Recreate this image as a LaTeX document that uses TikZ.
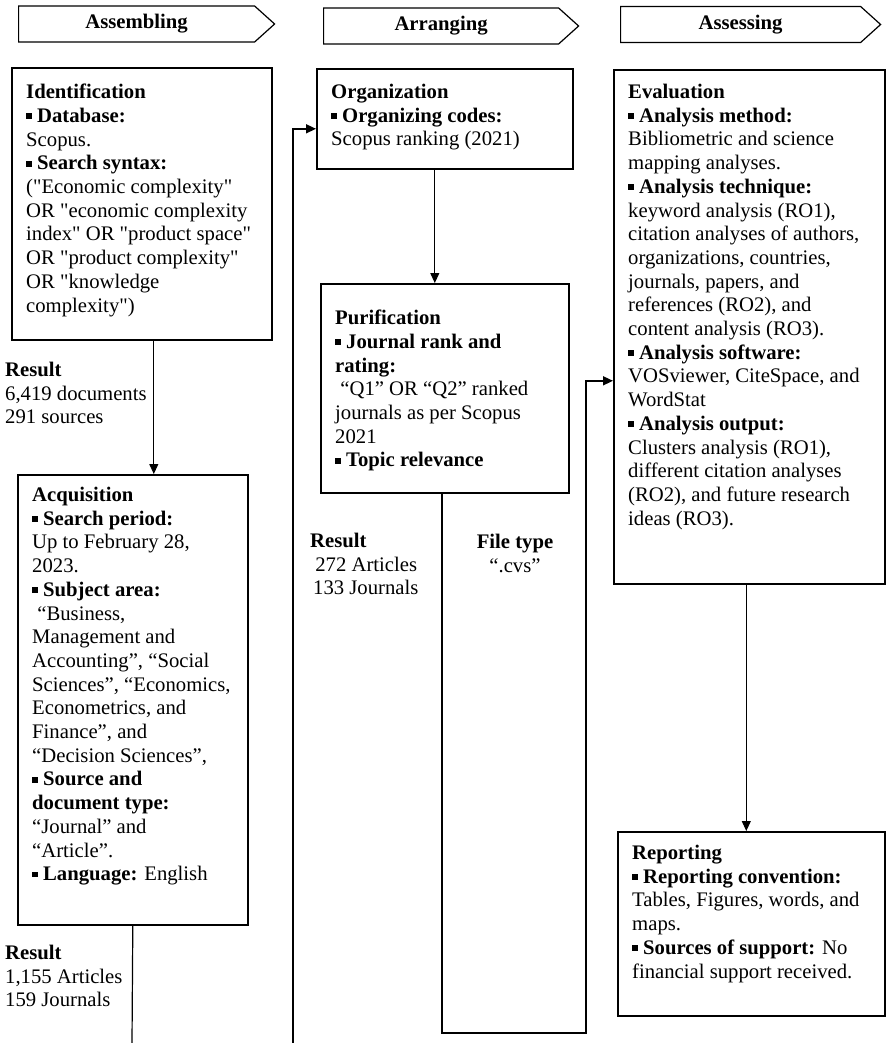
\documentclass[tikz,border=0pt]{standalone}
\usepackage{fontspec}
\setmainfont{Liberation Serif}[Ligatures=TeXOff]
\usetikzlibrary{arrows.meta,shapes.symbols}

\newcommand\sqb{\raisebox{0.16em}{\rule{0.28em}{0.28em}}}

\tikzset{
  hdr/.style={draw, line width=1.2pt, shape=signal, signal to=east, signal pointer angle=84, minimum height=36pt, anchor=west, inner sep=0pt, font=\fontsize{20.7}{23.7}\selectfont\bfseries},
  stage/.style={draw, line width=1.6pt, anchor=north west, inner sep=0pt},
  txt/.style={anchor=north west, inner sep=0pt, align=left, font=\fontsize{20.7}{23.7}\selectfont},
  link/.style={line width=1pt, -{Triangle[length=10pt,width=9pt]}},
  flow/.style={line width=1.5pt, -{Triangle[length=10pt,width=9pt]}},
  plain/.style={line width=1.2pt}
}

\begin{document}
\begin{tikzpicture}[x=1pt, y=-1pt]
\useasboundingbox (0,0) rectangle (886,1043);
\foreach \name/\x/\y/\w/\lbl in {hassem/18/24/256/Assembling, harr/323/26/255/Arranging, hass/620/24.5/260/Assessing}
  \node[hdr, minimum width=\w pt] (\name) at (\x,\y) {\lbl};

\node[stage, minimum width=260pt, minimum height=272pt] (ident) at (11,67) {};
\node[txt] (identtxt) at ([xshift=15pt,yshift=-17pt]ident.north west) {\textbf{Identification}\\
\sqb\ \textbf{Database:}\\
Scopus.\\
\sqb\ \textbf{Search syntax:}\\
("Economic complexity"\\
OR "economic complexity\\
index" OR "product space"\\
OR "product complexity"\\
OR "knowledge\\
complexity")};

\node[stage, minimum width=230pt, minimum height=450pt] (acq) at (17,474) {};
\node[txt] (acqtxt) at ([xshift=15pt,yshift=-13pt]acq.north west) {\textbf{Acquisition}\\
\sqb\ \textbf{Search period:}\\
Up to February 28,\\
2023.\\
\sqb\ \textbf{Subject area:}\\
\ “Business,\\
Management and\\
Accounting”, “Social\\
Sciences”, “Economics,\\
Econometrics, and\\
Finance”, and\\
“Decision Sciences”,\\
\sqb\ \textbf{Source and}\\
\textbf{document type:}\\
“Journal” and\\
“Article”.\\
\sqb\ \textbf{Language:} English};

\node[stage, minimum width=256pt, minimum height=100pt] (org) at (316,68) {};
\node[txt] (orgtxt) at ([xshift=15pt,yshift=-16pt]org.north west) {\textbf{Organization}\\
\sqb\ \textbf{Organizing codes:}\\
Scopus ranking (2021)};

\node[stage, minimum width=248pt, minimum height=209pt] (pur) at (320,283) {};
\node[txt] (purtxt) at ([xshift=15pt,yshift=-27pt]pur.north west) {\textbf{Purification}\\
\sqb\ \textbf{Journal rank and}\\
\textbf{rating:}\\
\ “Q1” OR “Q2” ranked\\
journals as per Scopus\\
2021\\
\sqb\ \textbf{Topic relevance}};

\node[stage, minimum width=271pt, minimum height=514pt] (eval) at (613,69) {};
\node[txt] (evaltxt) at ([xshift=15pt,yshift=-15pt]eval.north west) {\textbf{Evaluation}\\
\sqb\ \textbf{Analysis method:}\\
Bibliometric and science\\
mapping analyses.\\
\sqb\ \textbf{Analysis technique:}\\
keyword analysis (RO1),\\
citation analyses of authors,\\
organizations, countries,\\
journals, papers, and\\
references (RO2), and\\
content analysis (RO3).\\
\sqb\ \textbf{Analysis software:}\\
VOSviewer, CiteSpace, and\\
WordStat\\
\sqb\ \textbf{Analysis output:}\\
Clusters analysis (RO1),\\
different citation analyses\\
(RO2), and future research\\
ideas (RO3).};

\node[stage, minimum width=267pt, minimum height=184pt] (rep) at (617,831) {};
\node[txt] (reptxt) at ([xshift=15pt,yshift=-14pt]rep.north west) {\textbf{Reporting}\\
\sqb\ \textbf{Reporting convention:}\\
Tables, Figures, words, and\\
maps.\\
\sqb\ \textbf{Sources of support:} No\\
financial support received.};

\node[txt] (res1) at (5,362) {\textbf{Result}\\6,419 documents\\291 sources};
\node[txt] (res2) at (5,945) {\textbf{Result}\\1,155 Articles\\159 Journals};
\node[txt] (res3) at (310,533) {\textbf{Result}\\\ 272 Articles\\\hspace{3pt}133 Journals};
\node[txt, anchor=north, align=center] (ftype) at (515,534) {\textbf{File type}\\“.cvs”};

\coordinate (loopout) at (132,1043);
\coordinate (loopin) at (293,1043);
\coordinate (cvsup) at (586,1033);

\draw[link] ([xshift=12pt]ident.south) -- ([xshift=12pt]ident.south |- acq.north);
\draw[plain] (acq.south) -- (loopout);
\draw[flow] (loopin) |- ([yshift=-10pt]org.west);
\draw[link] ([xshift=-10pt]org.south) -- ([xshift=-10pt]org.south |- pur.north);
\draw[flow] ([xshift=-3pt]pur.south) |- (cvsup) |- ([yshift=-54pt]eval.west);
\draw[link] ([xshift=-3pt]eval.south) -- ([xshift=-3pt]eval.south |- rep.north);
\end{tikzpicture}
\end{document}
